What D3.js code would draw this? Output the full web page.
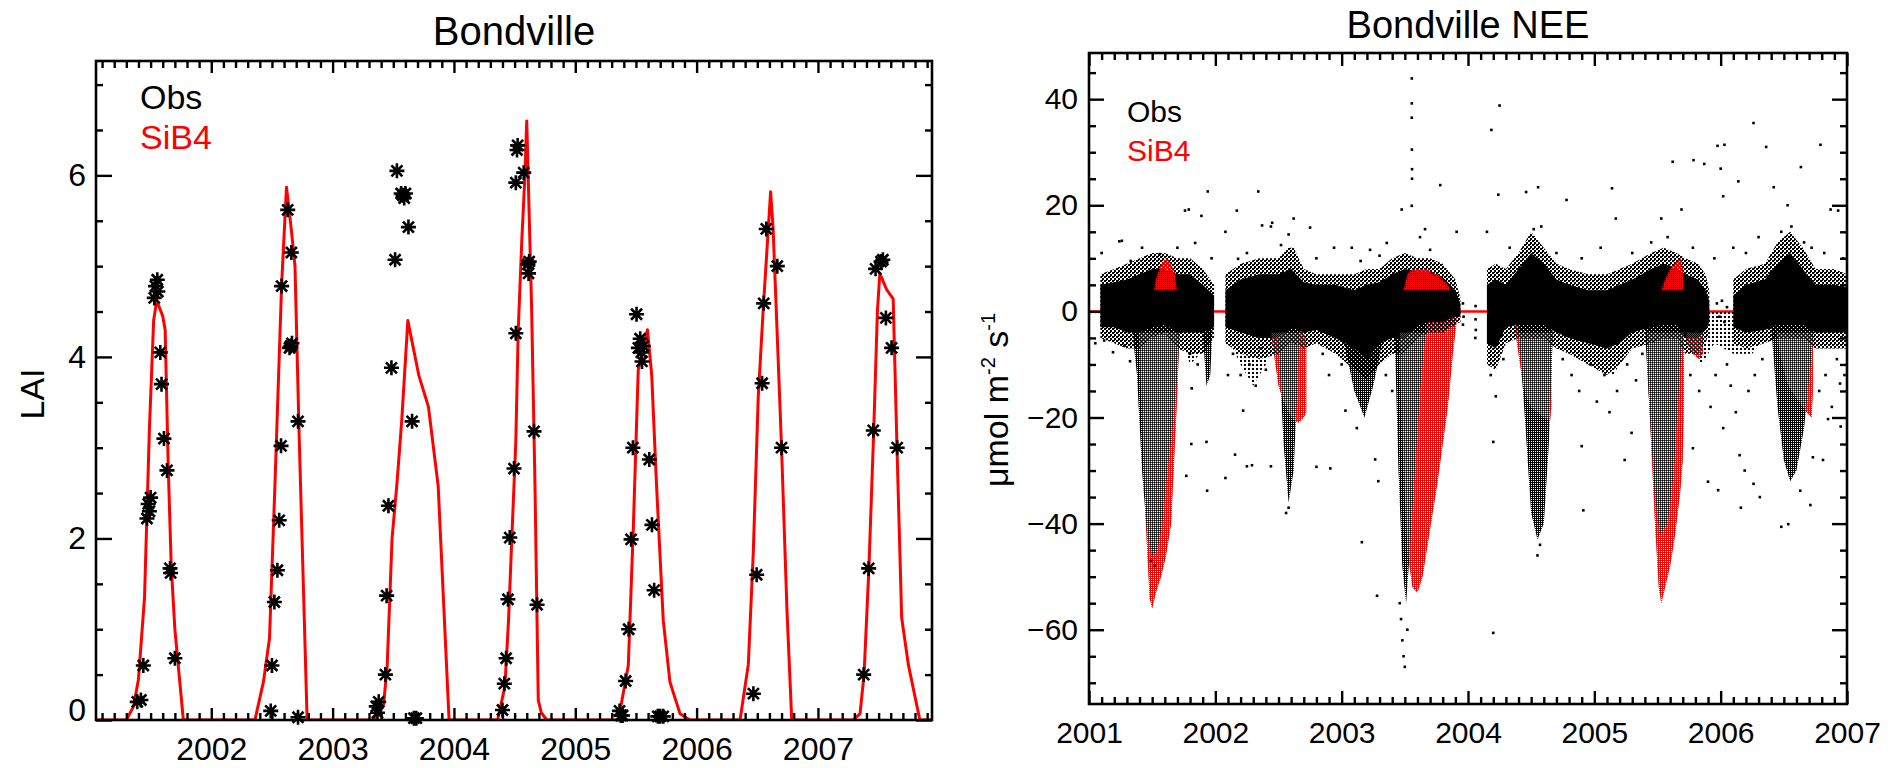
<!DOCTYPE html>
<html><head><meta charset="utf-8">
<script src="https://cdn.jsdelivr.net/npm/d3@7"></script>
<style>
body{margin:0;background:#fff;}
svg{display:block;font-family:"Liberation Sans",Arial,Helvetica,sans-serif;}
</style></head>
<body><svg id="chart" width="1899" height="768"></svg>
<script>
// ================= LAI panel data =================
const laiXTicks = [2002, 2003, 2004, 2005, 2006, 2007];
const laiYTicks = [0, 2, 4, 6];
const laiObsDate = [
 2001.39,2001.42,2001.44,2001.47,2001.48,2001.50,2001.49,2001.53,2001.54,2001.555,2001.56,2001.58,2001.59,2001.61,2001.635,2001.66,2001.665,2001.70,
 2002.49,2002.50,2002.52,2002.545,2002.56,2002.575,2002.58,2002.63,2002.66,2002.645,2002.665,2002.655,2002.715,2002.715,
 2003.36,2003.37,2003.38,2003.435,2003.445,2003.46,2003.485,2003.515,2003.53,2003.565,2003.58,2003.60,2003.59,2003.625,2003.655,2003.67,2003.69,
 2004.40,2004.415,2004.43,2004.445,2004.46,2004.495,2004.51,2004.51,2004.525,2004.52,2004.575,2004.61,2004.615,2004.62,2004.66,2004.685,
 2005.365,2005.375,2005.39,2005.415,2005.44,2005.46,2005.475,2005.505,2005.52,2005.535,2005.545,2005.55,2005.56,2005.61,2005.632,2005.65,2005.68,2005.70,2005.725,
 2006.468,2006.495,2006.54,2006.553,2006.574,2006.665,2006.70,
 2007.377,2007.418,2007.456,2007.475,2007.535,2007.52,2007.56,2007.607,2007.653];
const laiObsValue = [
 0.20,0.22,0.60,2.22,2.38,2.45,2.30,4.65,4.78,4.85,4.72,4.05,3.70,3.10,2.75,1.67,1.62,0.68,
 0.10,0.60,1.30,1.65,2.20,3.02,4.78,5.62,5.15,4.10,4.15,4.12,3.29,0.03,
 0.15,0.08,0.20,0.50,1.37,2.36,3.88,5.07,6.05,5.80,5.78,5.80,5.75,5.43,3.29,0.02,0.02,
 0.11,0.40,0.68,1.33,2.01,2.77,4.26,5.92,6.33,6.28,6.03,5.02,4.92,5.05,3.18,1.27,
 0.10,0.05,0.05,0.43,1.00,1.99,3.00,4.47,4.10,4.20,4.05,3.95,4.12,2.87,2.15,1.43,0.04,0.04,0.04,
 0.29,1.60,3.71,4.59,5.41,5.00,3.00,
 0.50,1.67,3.19,4.97,5.07,5.05,4.43,4.10,3.00];
const laiSimDate = [
 2001.05,2001.30,2001.36,2001.40,2001.45,2001.49,2001.525,2001.55,2001.60,2001.62,2001.645,2001.67,2001.70,2001.77,
 2002.36,2002.43,2002.48,2002.525,2002.58,2002.62,2002.66,2002.69,2002.725,2002.79,
 2003.335,2003.42,2003.45,2003.49,2003.53,2003.57,2003.62,2003.71,2003.79,2003.87,2003.96,
 2004.36,2004.42,2004.45,2004.48,2004.51,2004.53,2004.56,2004.585,2004.60,2004.64,2004.668,2004.695,2004.72,2004.765,
 2005.355,2005.437,2005.478,2005.519,2005.595,2005.63,2005.67,2005.725,2005.78,2005.863,2005.945,
 2006.358,2006.426,2006.467,2006.508,2006.55,2006.61,2006.63,2006.67,2006.70,2006.745,2006.784,
 2007.29,2007.347,2007.38,2007.42,2007.46,2007.49,2007.51,2007.567,2007.62,2007.65,2007.69,2007.745,2007.84,2007.94];
const laiSimValue = [
 0,0,0.15,0.45,1.35,3.2,4.4,4.62,4.45,4.3,2.8,1.7,1.0,0,
 0,0.42,0.9,2.6,4.8,5.87,5.4,5.0,3.1,0,
 0,0.17,0.6,2.0,2.6,3.3,4.4,3.8,3.45,2.58,0,
 0,0.37,1.1,2.1,3.07,4.3,5.3,6.0,6.6,4.55,2.58,0.22,0.08,0,
 0,0.6,2.1,3.86,4.3,3.8,2.58,1.1,0.42,0.07,0,
 0,0.61,1.84,3.56,4.55,5.82,5.43,4.05,3.0,1.2,0,
 0,0.07,0.5,1.67,3.2,4.5,4.92,4.74,4.64,3.07,1.13,0.61,0,0];

// ================= NEE panel data =================
const neeXTicks = [2001, 2002, 2003, 2004, 2005, 2006, 2007];
const neeYTicks = [-60, -40, -20, 0, 20, 40];
// observed: dense band around zero  [year, upper, lower]
const obsCoreA = [[2001.09,5,-3],[2001.20,5.5,-3],[2001.30,6,-4],[2001.40,7,-4],[2001.50,8,-3],[2001.60,8,-2.5],[2001.70,7,-4],[2001.80,7,-4],[2001.90,5,-4],[2001.99,3,-3]];
const obsCoreB = [[2002.08,4,-3],[2002.20,6,-4],[2002.35,7,-5],[2002.50,7,-5],[2002.60,8,-3],[2002.70,5.5,-4],[2002.80,5,-3.5],[2002.95,5,-5],[2003.10,4,-7],[2003.20,5,-9],[2003.30,5.5,-6],[2003.40,7,-5],[2003.50,8,-5],[2003.60,7.5,-2.5],[2003.70,7.5,-2],[2003.80,6.5,-2],[2003.90,4,-1],[2003.94,1.5,-1]];
const obsCoreC = [[2004.15,5,-6],[2004.22,6,-7],[2004.30,5,-3],[2004.40,8,-2.5],[2004.50,11,-2.5],[2004.60,9,-2.5],[2004.70,6,-4],[2004.80,5,-5],[2004.95,4,-6],[2005.10,4,-7],[2005.20,5,-6],[2005.30,6,-4],[2005.45,8,-3],[2005.55,9,-2.5],[2005.65,8,-2.5],[2005.72,7,-5],[2005.82,6,-5],[2005.88,4,-3.5],[2005.91,2,-2]];
const obsCoreE = [[2006.10,3,-3],[2006.20,5,-4],[2006.35,6,-3.5],[2006.45,9,-2.5],[2006.55,11,-2.5],[2006.65,8,-2.5],[2006.75,5,-4],[2006.90,5,-4],[2007.00,4.5,-4]];
// observed: dotted fringe of the band  [year, upper, lower]
const obsFringeA = [[2001.09,7,-5],[2001.20,8,-6],[2001.30,9,-7],[2001.40,10,-7],[2001.50,11,-5],[2001.60,11,-4],[2001.70,10,-7],[2001.80,10,-8],[2001.90,8,-8],[2001.99,5,-5]];
const obsFringeB = [[2002.08,7,-6],[2002.20,9,-8],[2002.35,10,-9],[2002.50,10,-8],[2002.58,12,-6],[2002.62,12,-6],[2002.70,8,-7],[2002.80,7,-6],[2002.95,7,-8],[2003.10,7,-11],[2003.20,8,-13],[2003.30,8,-10],[2003.40,10,-8],[2003.50,11,-8],[2003.60,10,-5],[2003.70,10,-4],[2003.80,9,-4],[2003.90,6,-2.5],[2003.94,2.5,-2]];
const obsFringeC = [[2004.15,8,-10],[2004.22,9,-11],[2004.30,8,-6],[2004.40,11,-5],[2004.50,15,-5],[2004.60,12,-5],[2004.70,9,-7],[2004.80,8,-8],[2004.95,7,-10],[2005.10,7,-12],[2005.20,8,-10],[2005.30,9,-7],[2005.45,11,-6],[2005.55,12,-5],[2005.65,11,-5],[2005.72,10,-8],[2005.82,9,-8],[2005.88,7,-6],[2005.91,4,-4]];
const obsFringeE = [[2006.10,6,-6],[2006.20,8,-7],[2006.35,9,-6],[2006.45,13,-5],[2006.55,15,-5],[2006.65,12,-5],[2006.75,8,-7],[2006.90,8,-7],[2007.00,7,-7]];
// observed: seasonal uptake columns  [year, upper, lower]
const obsDip2001 = [[2001.34,0,-3],[2001.38,0,-12],[2001.42,0,-30],[2001.46,0,-42],[2001.50,0,-46],[2001.54,0,-45],[2001.58,0,-40],[2001.62,0,-30],[2001.66,0,-22],[2001.70,0,-12],[2001.72,0,-3]];
const obsDip2001b = [[2001.90,0,-4],[2001.93,0,-14],[2001.96,0,-12],[2001.98,0,-2]];
const obsDip2002 = [[2002.50,0,-5],[2002.54,0,-25],[2002.58,0,-36],[2002.62,0,-30],[2002.66,0,-8]];
const obsDip2003a = [[2003.02,0,-6],[2003.10,0,-15],[2003.18,0,-20],[2003.25,0,-14],[2003.32,0,-6]];
const obsDip2003 = [[2003.42,0,-5],[2003.45,0,-30],[2003.48,0,-48],[2003.51,0,-55],[2003.54,0,-45],[2003.58,0,-30],[2003.62,0,-15],[2003.66,0,-5]];
const obsDip2004 = [[2004.40,0,-3],[2004.45,0,-20],[2004.50,0,-38],[2004.55,0,-43],[2004.60,0,-40],[2004.64,0,-25],[2004.67,0,-5]];
const obsDip2005 = [[2005.40,0,-3],[2005.44,0,-20],[2005.48,0,-35],[2005.52,0,-42],[2005.58,0,-40],[2005.63,0,-30],[2005.68,0,-10],[2005.70,0,-3]];
const obsDip2006 = [[2006.40,0,-3],[2006.45,0,-18],[2006.50,0,-28],[2006.55,0,-32],[2006.60,0,-30],[2006.66,0,-22],[2006.72,0,-8],[2006.74,0,-2]];
// observed: sparse spread  [year, upper, lower]
const obsSparse2001 = [[2001.72,0,-4],[2001.80,0,-10],[2001.88,0,-8]];
const obsSparse2002 = [[2002.12,0,-6],[2002.20,0,-10],[2002.30,0,-14],[2002.40,0,-10],[2002.46,0,-5]];
const obsSparse2005 = [[2004.92,0,-6],[2005.05,0,-10],[2005.15,0,-12],[2005.25,0,-8],[2005.32,0,-4]];
const obsSparse2006 = [[2005.72,0,-5],[2005.85,0,-10],[2005.95,0,-6],[2006.10,0,-8],[2006.25,0,-8],[2006.38,0,-4]];
// SiB4 simulated NEE spread  [year, upper, lower]
const simNee2001 = [[2001.39,0,-2],[2001.42,0,-20],[2001.45,0,-40],[2001.48,0,-54],[2001.50,2,-56],[2001.53,6,-53],[2001.57,9,-50],[2001.61,10,-46],[2001.65,9,-40],[2001.68,7,-25],[2001.70,3,-15],[2001.71,0,-8]];
const simNee2002 = [[2002.44,0,-4],[2002.47,0,-9],[2002.50,0,-14],[2002.54,0,-17],[2002.58,0,-19],[2002.62,0,-20.5],[2002.66,-2,-21],[2002.70,-4,-20],[2002.72,-6,-19]];
const simNee2003 = [[2003.46,0,-10],[2003.49,4,-30],[2003.52,7,-45],[2003.56,8,-52],[2003.60,8,-53],[2003.64,8,-50],[2003.68,8,-44],[2003.72,7,-38],[2003.76,7,-32],[2003.80,6,-25],[2003.84,5,-18],[2003.88,3,-8],[2003.91,0,-2]];
const simNee2004 = [[2004.37,0,-3],[2004.40,0,-8],[2004.43,0,-13],[2004.46,0,-16],[2004.50,0,-18],[2004.55,0,-19],[2004.60,0,-20],[2004.65,0,-20.5],[2004.66,0,-18]];
const simNee2005 = [[2005.42,0,-10],[2005.45,0,-25],[2005.48,0,-40],[2005.51,2,-52],[2005.53,4,-55],[2005.56,6,-52],[2005.60,8,-48],[2005.64,9,-42],[2005.68,10,-34],[2005.70,8,-28],[2005.71,0,-15]];
const simNee2005b = [[2005.73,-1,-6],[2005.78,-1,-8],[2005.83,-1,-9],[2005.86,-2,-8]];
const simNee2006 = [[2006.44,0,-4],[2006.48,0,-9],[2006.52,0,-13],[2006.56,0,-15],[2006.62,0,-17],[2006.68,0,-19],[2006.72,0,-20],[2006.73,0,-15]];
// isolated observed points
const neeOutDate = [
 2001.10,2001.24,2001.26,2001.42,2001.56,2001.76,2001.79,2001.84,2001.89,2001.94,2002.08,2002.17,2002.18,2002.34,2002.37,2002.44,2002.45,2002.58,2002.62,2002.75,2002.94,
 2003.08,2003.225,2003.357,2003.475,2003.555,2003.555,2003.555,2003.556,2003.557,2003.557,2003.555,2003.70,2003.78,2003.91,2004.15,2004.185,2004.25,2004.24,2004.46,2004.555,2004.78,
 2005.14,2005.17,2005.53,2005.62,2005.69,2005.785,2005.87,2005.975,2006.03,2006.00,2006.02,2006.14,2006.26,2006.36,2006.42,2006.53,2006.635,2006.79,2006.87,2006.93,
 2001.33,2001.70,2001.97,2002.25,2002.52,2002.80,2003.15,2003.30,2003.62,2003.66,2004.33,2004.52,2004.58,2004.70,2004.90,2005.05,2005.30,2005.45,2005.58,2005.78,2005.95,2006.10,2006.20,2006.30,2006.48,2006.56,2006.66,2006.72,2006.82,2006.97,
 2001.19,2001.325,2001.77,2001.81,2001.813,2001.93,2001.935,2002.08,2002.156,2002.22,2002.25,2002.29,2002.44,2002.80,2002.91,2003.03,2003.12,2003.16,2003.265,2003.28,2003.29,
 2004.20,2004.20,2004.90,2004.913,2005.24,2005.295,2005.78,2005.90,2005.98,2006.02,2006.15,2006.16,2006.19,2006.26,2006.31,2006.535,2006.63,2006.71,2006.73,2006.81,2006.85,2006.945,2006.95,
 2003.46,2003.47,2003.48,2003.49,2003.50,2003.52,2004.55,2004.57,2001.49,2001.52,2002.56,2002.58,2006.48,
 2001.05,2001.12,2001.28,2001.80,2001.86,2002.10,2002.14,2002.20,2002.27,2002.32,2002.36,2002.40,2002.85,2002.90,2003.00,2003.35,2003.40,2004.18,2004.22,2004.28,2004.75,2004.82,2004.88,2004.97,
 2005.02,2005.08,2005.12,2005.18,2005.26,2005.33,2005.38,2005.76,2005.83,2005.92,2005.96,2006.05,2006.08,2006.12,2006.22,2006.27,2006.33,2006.78,2006.83,2006.88,2006.92,2006.98,
 2003.96,2003.965,2003.96,2004.06,2004.06,2004.062,2004.058,2005.97,2005.99,2006.01,2006.03,2006.05];
const neeOutValue = [
 11,13.2,13.3,12,10.8,19,19.2,12.9,18,22.6,15,19,9.9,22.6,16.2,16,16.7,14.5,17.5,15.8,12,
 12,11.6,12.9,19.2,43.9,39.2,36.5,30.5,26.8,25,19.9,11.6,23.8,15,15,34.2,38.8,22,22.5,23.4,21,
 23.2,17.5,17.5,28.2,19.2,28.5,27.8,31.2,31.4,26.9,21.7,24.5,35.5,31,23.4,20,27.2,31.4,19.2,19,
 9.5,12,10,11,12.5,10,9.5,10.5,14,15.5,12,15.5,16,11,10,12,11,13,14,12,10,12,11,14,15,16,13,12,11,10,
 -7.7,-9.4,-31,-25,-14.5,-24.6,-33.8,-31.4,-27,-18.7,-29.2,-29,-29.2,-29.3,-29.6,-18.7,-22,-43.5,-27.9,-53.6,-32,
 -24.6,-60.6,-25.4,-37.5,-28,-22.9,-25.8,-32.1,-33.7,-22,-27.1,-37,-30,-32.5,-35,-40.1,-33.8,-36.5,-27.5,-28,-20.3,-13.6,-21.7,
 -55,-58,-62,-65,-67,-60,-46,-44,-47,-48,-38,-37,-40.6,
 -6,-5.5,-6.5,-8,-10,-12,-8,-12,-10,-14,-7,-11,-8,-12,-10,-12,-15,-12,-16,-9,-9,-12,-15,-10,
 -17,-12,-19,-15,-10,-13,-8,-12,-15,-18,-12,-10,-14,-19,-15,-12,-9,-15,-12,-18,-9,-12,
 1.5,-1,-2.5,1,-1.5,-3.5,-5,1.5,-1,2,-2,0.8];

// ================= drawing =================
const RED = "#f00";
const svg = d3.select("#chart");
const defs = svg.append("defs");
function pattern(id, tile, rects, color) {
  const p = defs.append("pattern").attr("id", id).attr("patternUnits", "userSpaceOnUse")
    .attr("width", tile).attr("height", tile);
  rects.forEach(r => p.append("rect").attr("x", r[0]).attr("y", r[1]).attr("width", r[2]).attr("height", r[3]).attr("fill", color));
}
pattern("blackDense", 2, [[0,0,2,1],[0,1,1,1]], "#000");
pattern("blackFringe", 4, [[0,0,2,2],[2,2,2,2],[2,0,1,1]], "#000");
pattern("blackSparse", 4, [[0,0,2,2]], "#000");
pattern("redDense", 2, [[0,0,2,1],[0,1,1,1]], RED);
pattern("redMix", 2, [[1,0,1,1],[0,1,1,1]], RED);

function idlFrame(g, x, y, o) {
  const [x0, x1] = x.range(), [y0, y1] = y.range();
  const fmt = d3.format("d");
  g.append("g").attr("transform", `translate(0,${y0})`)
    .call(d3.axisBottom(x).tickValues(o.xMinor).tickSize(-o.minLen).tickSizeOuter(0).tickFormat(""));
  g.append("g").attr("class", "xlab").attr("transform", `translate(0,${y0})`)
    .call(d3.axisBottom(x).tickValues(o.xMajor).tickSize(-o.majLenX).tickSizeOuter(0).tickPadding(o.xPad).tickFormat(fmt));
  g.append("g").attr("transform", `translate(0,${y1})`)
    .call(d3.axisTop(x).tickValues(o.xMinor).tickSize(-o.minLen).tickSizeOuter(0).tickFormat(""));
  g.append("g").attr("transform", `translate(0,${y1})`)
    .call(d3.axisTop(x).tickValues(o.xMajor).tickSize(-o.majLenX).tickSizeOuter(0).tickFormat(""));
  g.append("g").attr("transform", `translate(${x0},0)`)
    .call(d3.axisLeft(y).tickValues(o.yMinor).tickSize(-o.minLen).tickSizeOuter(0).tickFormat(""));
  g.append("g").attr("class", "ylab").attr("transform", `translate(${x0},0)`)
    .call(d3.axisLeft(y).tickValues(o.yMajor).tickSize(-o.majLenY).tickSizeOuter(0).tickPadding(o.yPad).tickFormat(fmt));
  g.append("g").attr("transform", `translate(${x1},0)`)
    .call(d3.axisRight(y).tickValues(o.yMinor).tickSize(-o.minLen).tickSizeOuter(0).tickFormat(""));
  g.append("g").attr("transform", `translate(${x1},0)`)
    .call(d3.axisRight(y).tickValues(o.yMajor).tickSize(-o.majLenY).tickSizeOuter(0).tickFormat(""));
  g.selectAll(".domain").remove();
  g.selectAll(".tick line").attr("stroke", "#000").attr("stroke-width", 2.4);
  g.selectAll(".tick text").attr("fill", "#000").attr("font-size", o.fs).attr("font-family", null);
  g.append("rect").attr("x", x0).attr("y", y1).attr("width", x1 - x0).attr("height", y0 - y1)
    .attr("fill", "none").attr("stroke", "#000").attr("stroke-width", 2.6);
}
function range(a, b, s) { const r = []; for (let v = a; v <= b + 1e-9; v += s) r.push(+v.toFixed(4)); return r; }

// ---------------- Left: LAI ----------------
{
  const x = d3.scaleLinear().domain([2001.05, 2007.94]).range([96, 932]);
  const y = d3.scaleLinear().domain([0, 7.26]).range([720, 61]);
  const g = svg.append("g");
  g.append("defs").append("clipPath").attr("id", "clipL").append("rect")
    .attr("x", 96).attr("y", 61).attr("width", 836).attr("height", 659);
  const line = d3.line().x((d, i) => x(laiSimDate[i])).y(d => y(d));
  g.append("path").attr("clip-path", "url(#clipL)").attr("d", line(laiSimValue))
    .attr("fill", "none").attr("stroke", RED).attr("stroke-width", 3).attr("stroke-linejoin", "round");
  const r = 7.5, dd = 5.5;
  const ast = `M${-r},0H${r}M0,${-r}V${r}M${-dd},${-dd}L${dd},${dd}M${-dd},${dd}L${dd},${-dd}`;
  g.append("g").selectAll("path").data(laiObsValue).join("path")
    .attr("transform", (d, i) => `translate(${x(laiObsDate[i])},${y(d)})`)
    .attr("d", ast).attr("stroke", "#000").attr("stroke-width", 2.6).attr("fill", "none");
  idlFrame(g, x, y, {xMajor: laiXTicks, xMinor: range(2001.1, 2007.9, 0.1).filter(v => Math.abs(v - Math.round(v)) > 1e-6),
    yMajor: laiYTicks, yMinor: range(0.5, 7, 0.5).filter(v => v % 2 !== 0),
    majLenX: 12, majLenY: 16, minLen: 7, xPad: 17, yPad: 10, fs: 32});
  g.selectAll(".ylab .tick text").filter(d => d === 0).attr("dy", "0.02em");
  svg.append("text").attr("x", 514).attr("y", 45).attr("text-anchor", "middle").attr("font-size", 40).text("Bondville");
  svg.append("text").attr("transform", "translate(44,394) rotate(-90)").attr("text-anchor", "middle").attr("font-size", 34).text("LAI");
  svg.append("text").attr("x", 140).attr("y", 109).attr("font-size", 34).attr("fill", "#000").text("Obs");
  svg.append("text").attr("x", 140).attr("y", 149).attr("font-size", 34).attr("fill", RED).text("SiB4");
}

// ---------------- Right: NEE ----------------
{
  const x = d3.scaleLinear().domain([2001, 2007]).range([1089, 1847]);
  const y = d3.scaleLinear().domain([-74, 48.7]).range([704, 53]);
  const g = svg.append("g");
  const cdefs = g.append("defs");
  cdefs.append("clipPath").attr("id", "clipR").append("rect")
    .attr("x", 1089).attr("y", 53).attr("width", 758).attr("height", 651);
  cdefs.append("clipPath").attr("id", "clipPos").append("rect")
    .attr("x", 1089).attr("y", 53).attr("width", 758).attr("height", y(4) - 53);
  cdefs.append("clipPath").attr("id", "clipNeg").append("rect")
    .attr("x", 1089).attr("y", y(-4)).attr("width", 758).attr("height", 704 - y(-4));
  const pg = g.append("g").attr("clip-path", "url(#clipR)");
  const area = d3.area().x(d => x(d[0])).y0(d => y(d[2])).y1(d => y(d[1]));
  const sims = [simNee2001, simNee2002, simNee2003, simNee2004, simNee2005, simNee2005b, simNee2006];
  pg.append("line").attr("x1", x(2001)).attr("x2", x(2007)).attr("y1", y(0)).attr("y2", y(0))
    .attr("stroke", RED).attr("stroke-width", 2.5);
  sims.forEach(s => pg.append("path").attr("d", area(s)).attr("fill", "url(#redDense)"));
  [obsSparse2001, obsSparse2002, obsSparse2005, obsSparse2006].forEach(s =>
    pg.append("path").attr("d", area(s)).attr("fill", "url(#blackSparse)"));
  [obsDip2001, obsDip2001b, obsDip2002, obsDip2003a, obsDip2003, obsDip2004, obsDip2005, obsDip2006].forEach(s =>
    pg.append("path").attr("d", area(s)).attr("fill", "url(#blackDense)"));
  [obsFringeA, obsFringeB, obsFringeC, obsFringeE].forEach(s =>
    pg.append("path").attr("d", area(s)).attr("fill", "url(#blackFringe)"));
  [obsCoreA, obsCoreB, obsCoreC, obsCoreE].forEach(s =>
    pg.append("path").attr("d", area(s)).attr("fill", "#000"));
  const posG = pg.append("g").attr("clip-path", "url(#clipPos)");
  sims.forEach(s => posG.append("path").attr("d", area(s)).attr("fill", "url(#redDense)"));
  const negG = pg.append("g").attr("clip-path", "url(#clipNeg)");
  sims.forEach(s => negG.append("path").attr("d", area(s)).attr("fill", "url(#redMix)"));
  pg.append("g").selectAll("rect").data(neeOutValue).join("rect")
    .attr("x", (d, i) => x(neeOutDate[i]) - 1.3).attr("y", d => y(d) - 1.3)
    .attr("width", 2.6).attr("height", 2.6).attr("fill", "#000");
  idlFrame(g, x, y, {xMajor: neeXTicks, xMinor: range(2001.1, 2006.9, 0.1).filter(v => Math.abs(v - Math.round(v)) > 1e-6),
    yMajor: neeYTicks, yMinor: range(-70, 45, 5).filter(v => v % 20 !== 0),
    majLenX: 13, majLenY: 15, minLen: 7, xPad: 18, yPad: 11, fs: 30});
  svg.append("text").attr("x", 1468).attr("y", 38).attr("text-anchor", "middle").attr("font-size", 38).text("Bondville NEE");
  const yl = svg.append("text").attr("transform", "translate(1008,400) rotate(-90)").attr("text-anchor", "middle").attr("font-size", 34);
  yl.append("tspan").text("\u03bcmol m");
  yl.append("tspan").attr("font-size", 20).attr("dy", -13).text("-2");
  yl.append("tspan").attr("dy", 13).text(" s");
  yl.append("tspan").attr("font-size", 20).attr("dy", -13).text("-1");
  svg.append("text").attr("x", 1127).attr("y", 122).attr("font-size", 30).attr("fill", "#000").text("Obs");
  svg.append("text").attr("x", 1127).attr("y", 161).attr("font-size", 30).attr("fill", RED).text("SiB4");
}
</script></body></html>
